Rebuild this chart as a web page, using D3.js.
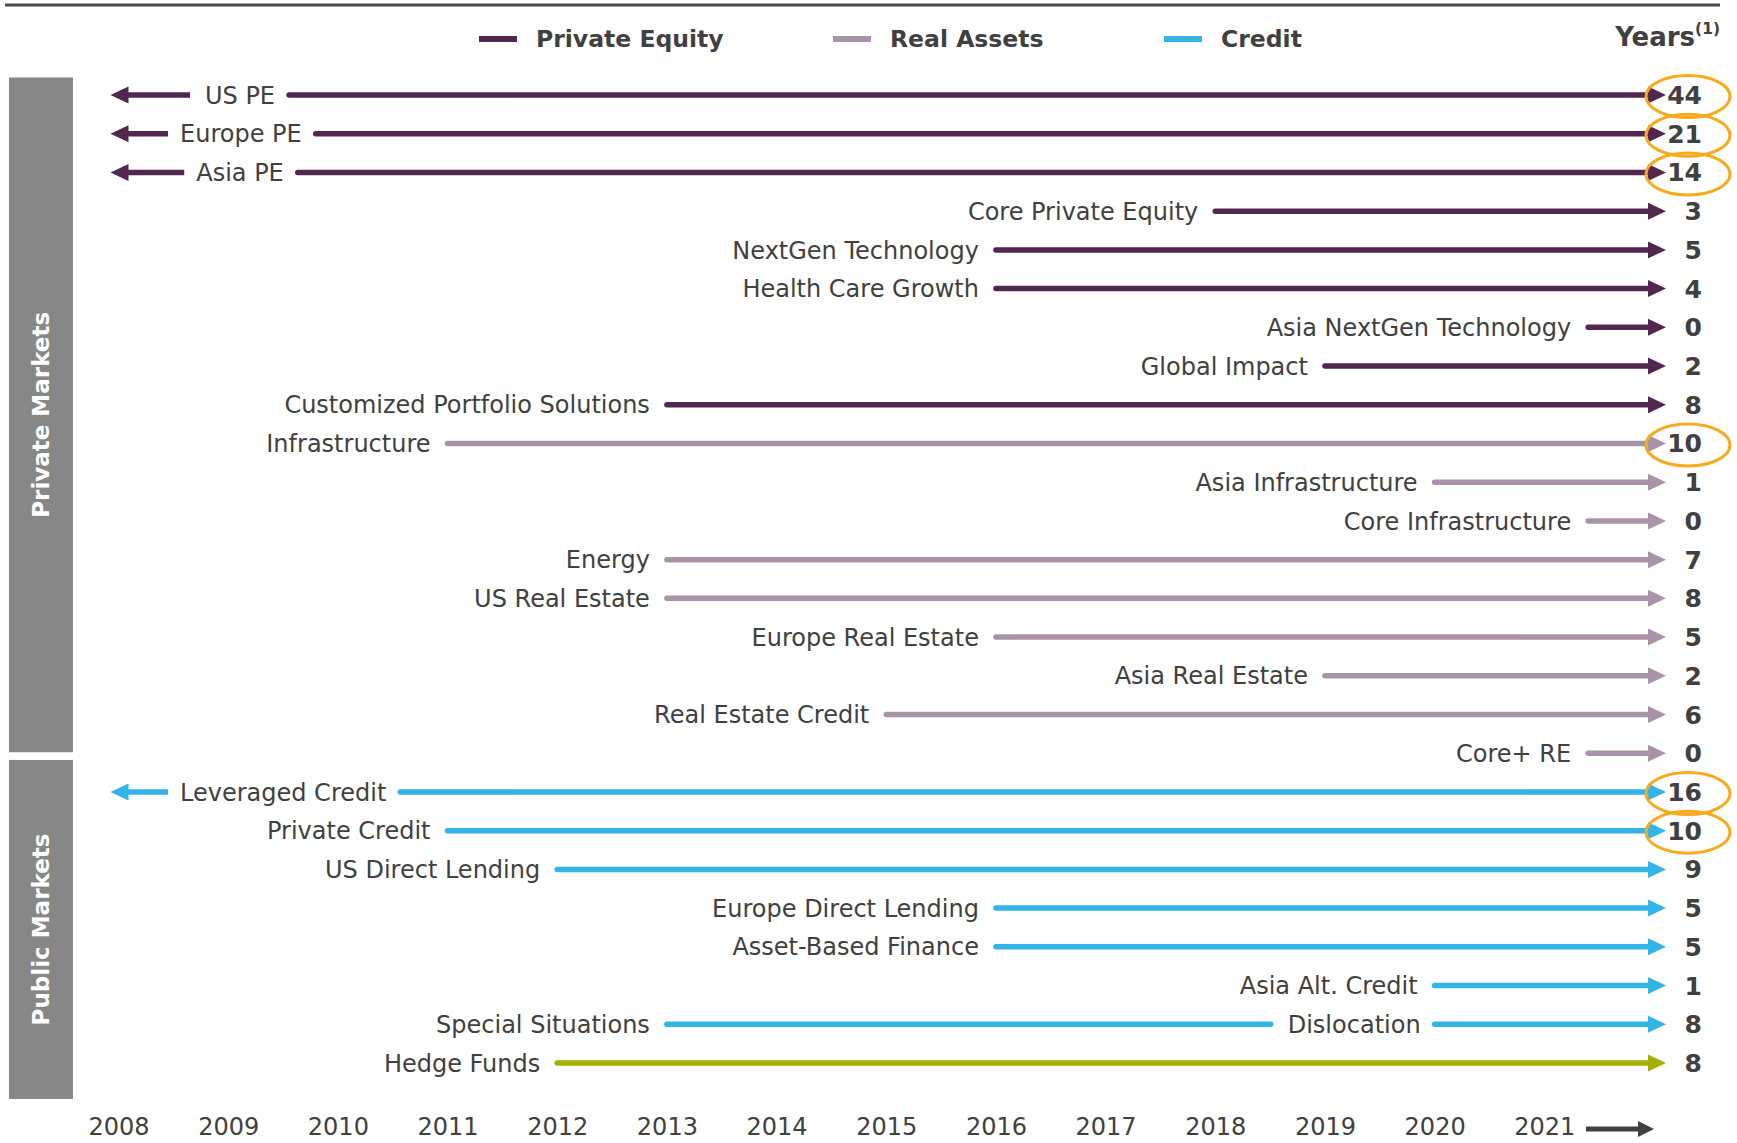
<!DOCTYPE html>
<html><head><meta charset="utf-8">
<script src="https://cdn.jsdelivr.net/npm/d3@7"></script>
<style>
body{margin:0;background:#fff;}
svg{display:block;font-family:"DejaVu Sans",Verdana,sans-serif;}
</style>
</head><body>
<svg id="chart" width="1737" height="1143"></svg>
<script>
// ---------------- DATA ----------------
const strategies = ["US PE","Europe PE","Asia PE","Core Private Equity","NextGen Technology","Health Care Growth",
  "Asia NextGen Technology","Global Impact","Customized Portfolio Solutions","Infrastructure","Asia Infrastructure",
  "Core Infrastructure","Energy","US Real Estate","Europe Real Estate","Asia Real Estate","Real Estate Credit","Core+ RE",
  "Leveraged Credit","Private Credit","US Direct Lending","Europe Direct Lending","Asset-Based Finance","Asia Alt. Credit",
  "Special Situations","Hedge Funds"];
const groups = ["Private Equity","Private Equity","Private Equity","Private Equity","Private Equity","Private Equity",
  "Private Equity","Private Equity","Private Equity","Real Assets","Real Assets","Real Assets","Real Assets","Real Assets",
  "Real Assets","Real Assets","Real Assets","Real Assets","Credit","Credit","Credit","Credit","Credit","Credit","Credit","Hedge Funds"];
// null = track record starts before 2008 (left arrow)
const startYears = [null,null,null,2018,2016,2016,2021.4,2019,2013,2011,2020,2021.4,2013,2013,2016,2019,2015,2021.4,
  null,2011,2012,2016,2016,2020,2013,2012];
const yearsValues = [44,21,14,3,5,4,0,2,8,10,1,0,7,8,5,2,6,0,16,10,9,5,5,1,8,8];
const highlighted = ["US PE","Europe PE","Asia PE","Infrastructure","Leveraged Credit","Private Credit"];
const splitRowName = ["Special Situations"];
const splitLabels = ["Dislocation"];
const splitStarts = [2020];
const axisYears = [2008,2009,2010,2011,2012,2013,2014,2015,2016,2017,2018,2019,2020,2021];
const legendItems = ["Private Equity","Real Assets","Credit"];
const sectionNames = ["Private Markets","Public Markets"];
const sectionRows = [[0,17],[18,25]];
const colorList = ["#52264F","#A993A8","#33B4E6","#A7B000"];

// ---------------- LAYOUT ----------------
const svg = d3.select("#chart");
const textCol = "#404040";
const color = d3.scaleOrdinal().domain(["Private Equity","Real Assets","Credit","Hedge Funds"]).range(colorList);
const x = d3.scaleLinear().domain([2008,2021]).range([118.5,1544.3]);
const y = d3.scaleLinear().domain([0,strategies.length-1]).range([95,1063]);
const xEnd = x(2022) + 12;      // right arrow tip
const xLeftTip = x(2008) - 8;   // left arrow tip
const headL = 18, headH = 8.5, lw = 5.5, gap = 17;
const labelFont = 24;

// top rule
svg.append("line").attr("x1",5).attr("x2",1720).attr("y1",5).attr("y2",5)
  .attr("stroke","#4a4a4a").attr("stroke-width",3);

// legend
const legX = [479,833,1164];
legendItems.forEach((k,i)=>{
  svg.append("line").attr("x1",legX[i]).attr("x2",legX[i]+38).attr("y1",39).attr("y2",39)
    .attr("stroke",color(k)).attr("stroke-width",6);
  svg.append("text").attr("x",legX[i]+57).attr("y",39).attr("dy","0.36em")
    .attr("font-size",23.5).attr("font-weight","bold").attr("fill",textCol).text(k);
});
const yt = svg.append("text").attr("x",1720).attr("y",46).attr("text-anchor","end")
  .attr("font-weight","bold").attr("fill",textCol);
yt.append("tspan").attr("font-size",26).text("Years");
yt.append("tspan").attr("font-size",15.5).attr("dy","-0.75em").text("(1)");

// section bars
sectionNames.forEach((s,i)=>{
  const r = sectionRows[i];
  const top = i===0 ? y(r[0])-17.5 : y(r[0])-32;
  const bot = i===0 ? y(r[1])-1 : y(r[1])+36;
  svg.append("rect").attr("x",9).attr("y",top).attr("width",64).attr("height",bot-top).attr("fill","#878787");
  svg.append("text").attr("transform",`translate(${41},${(top+bot)/2}) rotate(-90)`)
    .attr("text-anchor","middle").attr("dy","0.36em").attr("font-size",23).attr("font-weight","bold")
    .attr("fill","#fff").text(s);
});

function rightHead(g, xt, yy, c){
  g.append("path").attr("d",`M${xt},${yy}L${xt-headL},${yy-headH}L${xt-headL},${yy+headH}Z`).attr("fill",c);
}
function leftHead(g, xt, yy, c){
  g.append("path").attr("d",`M${xt},${yy}L${xt+headL},${yy-headH}L${xt+headL},${yy+headH}Z`).attr("fill",c);
}
function seg(g,x1,x2,yy,c){
  g.append("line").attr("x1",x1).attr("x2",x2).attr("y1",yy).attr("y2",yy)
    .attr("stroke",c).attr("stroke-width",lw).attr("stroke-linecap","round");
}
function label(g,xx,yy,t,anchor){
  return g.append("text").attr("x",xx).attr("y",yy).attr("dy","0.36em").attr("text-anchor",anchor)
    .attr("font-size",labelFont).attr("fill",textCol).text(t);
}

const rows = svg.append("g");
strategies.forEach((name,i)=>{
  const g = rows.append("g");
  const yy = y(i), c = color(groups[i]);
  if (startYears[i] === null) {
    const t = label(g,0,yy,name,"start");
    const w = t.node().getComputedTextLength();
    const ls = Math.max(180, 240 - w/2);
    t.attr("x",ls);
    leftHead(g,xLeftTip,yy,c);
    g.append("line").attr("x1",xLeftTip+headL-1).attr("x2",Math.min(ls-12,190)).attr("y1",yy).attr("y2",yy)
      .attr("stroke",c).attr("stroke-width",lw);
    seg(g, ls+w+14, xEnd-headL+1, yy, c);
  } else {
    const xs = x(startYears[i]);
    label(g,xs-gap,yy,name,"end");
    const si = splitRowName.indexOf(name);
    if (si >= 0) {
      const xs2 = x(splitStarts[si]);
      const t2 = label(g,xs2-gap+3,yy,splitLabels[si],"end");
      const w2 = t2.node().getComputedTextLength();
      seg(g, xs, xs2-gap+3-w2-17, yy, c);
      seg(g, xs2, xEnd-headL+1, yy, c);
    } else {
      seg(g, xs, xEnd-headL+1, yy, c);
    }
  }
  rightHead(g,xEnd,yy,c);
  g.append("text").attr("x",1702).attr("y",yy).attr("dy","0.36em").attr("text-anchor","end")
    .attr("font-size",25).attr("font-weight","bold").attr("fill",textCol).text(yearsValues[i]);
  if (highlighted.includes(name)) {
    g.append("ellipse").attr("cx",1688).attr("cy",yy+1.5).attr("rx",42).attr("ry",21)
      .attr("fill","none").attr("stroke","#F8AA1C").attr("stroke-width",3);
  }
});

// year axis
const ax = svg.append("g").attr("transform","translate(0,1116)")
  .call(d3.axisBottom(x).tickValues(axisYears).tickFormat(d3.format("d")).tickSize(0).tickPadding(2));
ax.select(".domain").remove();
ax.selectAll("text").attr("font-size",24).attr("fill",textCol).attr("font-family","DejaVu Sans, sans-serif");
// time arrow
svg.append("line").attr("x1",1586).attr("x2",1640).attr("y1",1129).attr("y2",1129)
  .attr("stroke","#404040").attr("stroke-width",5);
svg.append("path").attr("d","M1654,1129L1638,1121L1638,1137Z").attr("fill","#404040");
</script>
</body></html>
